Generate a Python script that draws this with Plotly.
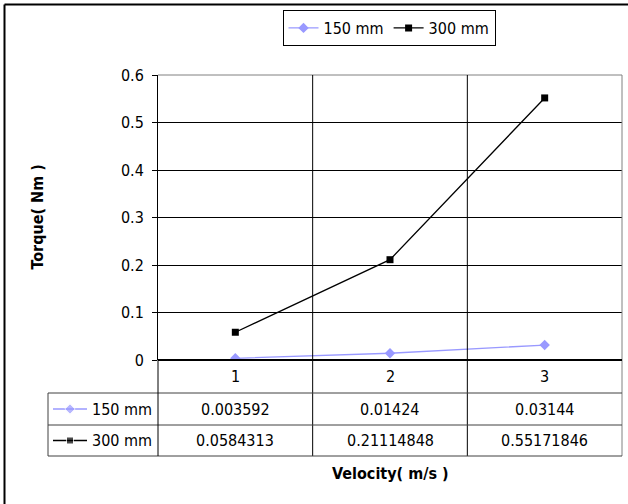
import plotly.graph_objects as go

# ---- data ----
velocity = [1, 2, 3]
series_names = ["150 mm", "300 mm"]
torque_150 = [0.003592, 0.01424, 0.03144]
torque_300 = [0.0584313, 0.21114848, 0.55171846]
y_ticks = [0, 0.1, 0.2, 0.3, 0.4, 0.5, 0.6]

# ---- layout constants (pixels) ----
W, H = 628, 504
PL, PR, PT, PB = 158, 622, 75, 360          # plot area
TL = 48                                     # left edge of the table key column
ROWS = [360, 393, 425, 456]                 # table row boundaries
FONT = "DejaVu Sans Condensed, Tahoma, Verdana, sans-serif"
FS = 16
C150 = "#9999FF"
C300 = "#000000"


def fx(x):
    return x / W


def fy(y):
    return 1 - y / H


fig = go.Figure()

fig.add_trace(go.Scatter(
    x=velocity, y=torque_150, name=series_names[0], mode="lines+markers",
    line=dict(color=C150, width=1.3),
    marker=dict(symbol="diamond", size=8, color=C150),
))
fig.add_trace(go.Scatter(
    x=velocity, y=torque_300, name=series_names[1], mode="lines+markers",
    line=dict(color=C300, width=1.3),
    marker=dict(symbol="square", size=7, color=C300),
))

# legend keys inside the data table, on a full-page pixel axis
key_y = [(ROWS[1] + ROWS[2]) / 2, (ROWS[2] + ROWS[3]) / 2]
for color, sym, size, ky in [
    (C150, "diamond", 8, key_y[0]),
    (C300, "square", 7, key_y[1]),
]:
    fig.add_trace(go.Scatter(
        x=[53, 70, 87], y=[ky, ky, ky], xaxis="x2", yaxis="y2",
        mode="lines+markers", showlegend=False, hoverinfo="skip",
        line=dict(color=color, width=1.3),
        marker=dict(symbol=sym, size=[0, size, 0], color=color),
    ))

shapes = []


def line(x0, y0, x1, y1, color="#000000", width=1):
    shapes.append(dict(type="line", xref="paper", yref="paper",
                       x0=fx(x0), y0=fy(y0), x1=fx(x1), y1=fy(y1),
                       line=dict(color=color, width=width)))


# chart frame (left and top edges)
line(4.5, H, 4.5, 4.5, width=2)
line(4.5, 4.5, W, 4.5, width=2)

# plot border
line(PL, PT, PR, PT, color="#808080")
line(PR, PT, PR, ROWS[3], color="#808080")

# category separators running through plot and table
cat_w = (PR - PL) / len(velocity)
for i in range(1, len(velocity)):
    xs = PL + i * cat_w
    line(xs, PT, xs, ROWS[3], color="#000000")

# table rows
for r in ROWS[1:]:
    line(TL, r, PR, r, color="#404040")
line(TL, ROWS[1], TL, ROWS[3], color="#404040")
line(PL, PB, PL, ROWS[3], color="#000000")

# zero baseline
line(PL, PB, PR, PB, width=2)

annotations = []

# category labels and values
table_rows = [[str(v) for v in velocity],
              [str(v) for v in torque_150],
              [str(v) for v in torque_300]]
for ri, row in enumerate(table_rows):
    yc = (ROWS[ri] + ROWS[ri + 1]) / 2
    for ci, txt in enumerate(row):
        annotations.append(dict(
            x=velocity[ci], xref="x", y=fy(yc), yref="paper",
            text=txt, showarrow=False, xanchor="center", yanchor="middle",
            font=dict(family=FONT, size=FS, color="#000000"),
        ))

for name, ky in zip(series_names, key_y):
    annotations.append(dict(
        x=fx(PL - 4), xref="paper", y=fy(ky), yref="paper", text=name,
        showarrow=False, xanchor="right", yanchor="middle",
        font=dict(family=FONT, size=FS, color="#000000"),
    ))

# axis titles
annotations.append(dict(
    x=fx((PL + PR) / 2), xref="paper", y=fy(473), yref="paper",
    text="<b>Velocity( m/s )</b>", showarrow=False,
    xanchor="center", yanchor="middle",
    font=dict(family=FONT, size=FS, color="#000000"),
))
annotations.append(dict(
    x=fx(37), xref="paper", y=fy((PT + PB) / 2), yref="paper",
    text="<b>Torque( Nm )</b>", showarrow=False, textangle=-90,
    xanchor="center", yanchor="middle",
    font=dict(family=FONT, size=FS, color="#000000"),
))

fig.update_layout(
    width=W, height=H,
    margin=dict(l=0, r=0, t=0, b=0, autoexpand=False),
    paper_bgcolor="#FFFFFF", plot_bgcolor="rgba(0,0,0,0)",
    font=dict(family=FONT, size=FS, color="#000000"),
    showlegend=True,
    legend=dict(
        orientation="h", xref="container", yref="container",
        x=fx(389), xanchor="center", y=fy(10), yanchor="top",
        bordercolor="#000000", borderwidth=1, bgcolor="#FFFFFF",
        font=dict(family=FONT, size=FS), itemwidth=30,
        tracegroupgap=0,
    ),
    xaxis=dict(
        domain=[fx(PL), fx(PR)], range=[0.5, 3.5],
        showgrid=False, zeroline=False, showticklabels=False,
        showline=False, ticks="", fixedrange=True,
    ),
    yaxis=dict(
        domain=[fy(PB), fy(PT)], range=[0, 0.6],
        tickvals=y_ticks, ticktext=[f"{v:g}" for v in y_ticks],
        showgrid=True, gridcolor="#000000", gridwidth=1,
        zeroline=False, showline=True, linecolor="#000000", linewidth=1,
        ticks="outside", ticklen=5, tickcolor="#000000",
        ticklabelstandoff=5,
        tickfont=dict(family=FONT, size=FS), fixedrange=True,
    ),
    xaxis2=dict(domain=[0, 1], range=[0, W], visible=False,
                anchor="y2", fixedrange=True),
    yaxis2=dict(domain=[0, 1], range=[H, 0], visible=False,
                anchor="x2", fixedrange=True),
    shapes=shapes,
    annotations=annotations,
)

fig.write_html("out.html")
